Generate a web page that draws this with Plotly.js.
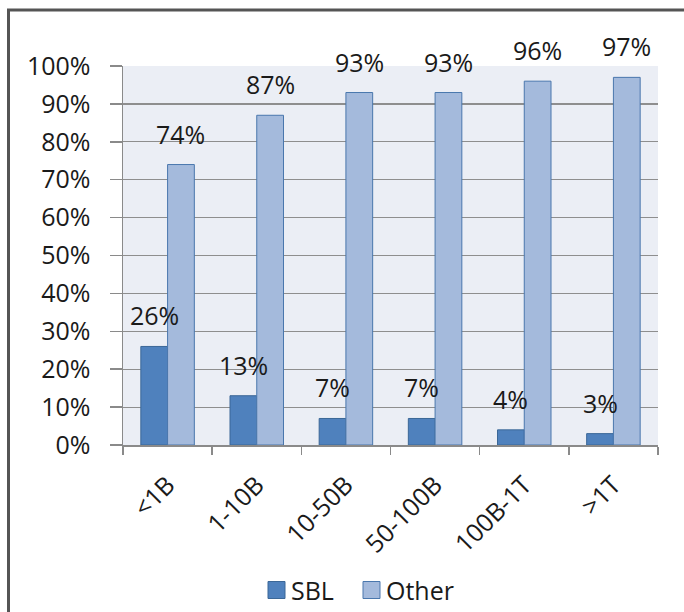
<!DOCTYPE html>
<html>
<head>
<meta charset="utf-8">
<script src="https://cdn.plot.ly/plotly-3.0.1.min.js"></script>
<style>
  html, body { margin: 0; padding: 0; background: #ffffff; }
  #chart { width: 684px; height: 612px; }
</style>
</head>
<body>
<div id="chart"></div>
<script>
// Share of each size bucket, in percent
const categories = ['<1B', '1-10B', '10-50B', '50-100B', '100B-1T', '>1T'];
const sblValues = [26, 13, 7, 7, 4, 3];
const otherValues = [74, 87, 93, 93, 96, 97];
const seriesNames = ['SBL', 'Other'];
const seriesColors = ['#4f81bd', '#a4badc'];
const seriesLines = ['#3b6797', '#4a77ad'];
const yTickValues = [0, 10, 20, 30, 40, 50, 60, 70, 80, 90, 100];

const FONT = 'Open Sans, DejaVu Sans, sans-serif';
const TEXT = '#1a1a1a';
const W = 684, H = 612;
const margin = { l: 123, r: 26, t: 66, b: 167 };
const plotW = W - margin.l - margin.r;
const plotH = H - margin.t - margin.b;
const bargap = 0.4;

// pixel -> paper helpers for frame and legend placement
const px = p => (p - margin.l) / plotW;
const py = p => (H - margin.b - p) / plotH;

// half a bar width in pixels: two bars share each category slot
const slot = plotW / categories.length;
const halfBar = slot * (1 - bargap) / 4;

const traces = [sblValues, otherValues].map((vals, s) => ({
  type: 'bar', name: seriesNames[s], x: categories, y: vals,
  marker: { color: seriesColors[s], line: { color: seriesLines[s], width: 1 } },
  hoverinfo: 'skip', showlegend: false
}));

// value labels above each bar
const annotations = [];
[sblValues, otherValues].forEach((vals, s) => {
  vals.forEach((v, i) => {
    annotations.push({
      x: categories[i], y: v, xref: 'x', yref: 'y',
      text: v + '%', showarrow: false,
      xanchor: 'center', yanchor: 'bottom',
      xshift: (s === 0 ? -1 : 1) * halfBar, yshift: 12,
      font: { family: FONT, size: 25, color: TEXT }
    });
  });
});

// legend drawn as swatches with labels below the axis
const shapes = [];
const legendX = [268, 363];   // left edge of each swatch, px
const legendY = 590;          // vertical centre, px
const sw = 17;
seriesNames.forEach((name, s) => {
  shapes.push({
    type: 'rect', xref: 'paper', yref: 'paper',
    x0: px(legendX[s]), x1: px(legendX[s] + sw),
    y0: py(legendY + sw / 2), y1: py(legendY - sw / 2),
    fillcolor: seriesColors[s], line: { color: seriesLines[s], width: 1 }
  });
  annotations.push({
    xref: 'paper', yref: 'paper',
    x: px(legendX[s] + sw + 4), y: py(legendY),
    xanchor: 'left', yanchor: 'middle', showarrow: false,
    text: name, font: { family: FONT, size: 25, color: TEXT }
  });
});

// outer chart frame (left and top edges)
shapes.push({
  type: 'path', xref: 'paper', yref: 'paper',
  path: 'M ' + px(8.5) + ' ' + py(640) + ' L ' + px(8.5) + ' ' + py(10) +
        ' L ' + px(700) + ' ' + py(10),
  line: { color: '#555555', width: 3 }
});

const layout = {
  width: W, height: H,
  margin: margin,
  paper_bgcolor: '#ffffff',
  plot_bgcolor: '#ebeef5',
  barmode: 'group',
  bargap: bargap,
  bargroupgap: 0,
  showlegend: false,
  xaxis: {
    type: 'category',
    showline: true, linecolor: '#8a8a8a', linewidth: 1.5,
    ticks: 'outside', ticklen: 8, tickcolor: '#8a8a8a', tickwidth: 1.5,
    tickson: 'boundaries',
    tickangle: -45,
    ticklabelstandoff: 14,
    tickfont: { family: FONT, size: 25, color: TEXT },
    showgrid: false, zeroline: false,
    automargin: false,
    fixedrange: true
  },
  yaxis: {
    range: [0, 100],
    tickvals: yTickValues,
    ticktext: yTickValues.map(v => v + '%'),
    showline: true, linecolor: '#8a8a8a', linewidth: 1.5,
    ticks: 'outside', ticklen: 12, tickcolor: '#8a8a8a', tickwidth: 1.5,
    ticklabelstandoff: 14,
    tickfont: { family: FONT, size: 25, color: TEXT },
    showgrid: true, gridcolor: '#8e8e8e', gridwidth: 1.2,
    zeroline: false,
    automargin: false,
    fixedrange: true
  },
  shapes: shapes,
  annotations: annotations
};

Plotly.newPlot('chart', traces, layout, { displayModeBar: false, staticPlot: true });
</script>
</body>
</html>
